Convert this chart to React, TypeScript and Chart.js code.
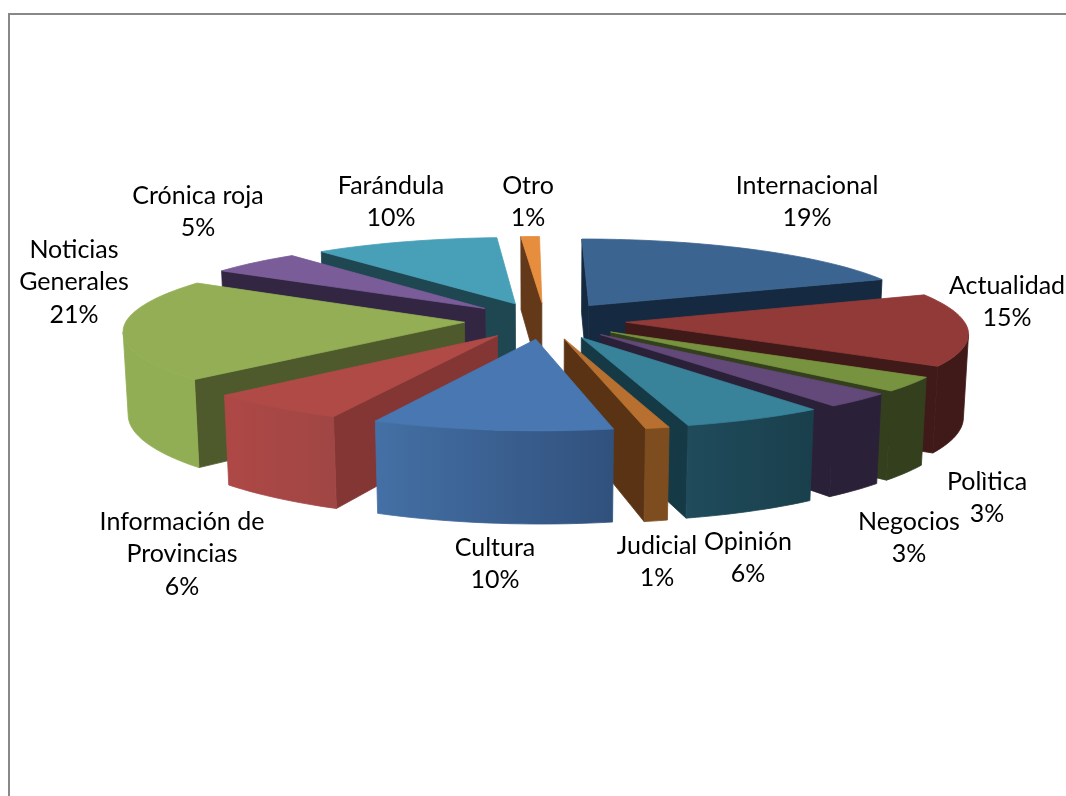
import React, { useEffect, useRef } from "react";
import { Chart, registerables } from "chart.js";

Chart.register(...registerables);

// Share of each news section, in percent, clockwise from the top of the pie.
const categories = [
  "Internacional", "Actualidad", "Polìtica", "Negocios", "Opinión", "Judicial",
  "Cultura", "Información de Provincias", "Noticias Generales", "Crónica roja", "Farándula", "Otro",
];
const shares = [19, 15, 3, 3, 6, 1, 10, 6, 21, 5, 10, 1];

// Surface colours per slice: top face, cut faces, and the rim at its first and last angle.
const topColors = ["#3C6491", "#913A38", "#77933F", "#63487A", "#38829A", "#B87030", "#4877B1", "#B04A47", "#93AE54", "#7A5C99", "#47A0B8", "#E68D3E"];
const cutColors = ["#152A40", "#3F1A18", "#343F1E", "#2A2138", "#163A45", "#5A3314", "#2C4A70", "#833634", "#4E5A2B", "#332642", "#1F4752", "#63391A"];
const rimStart = ["#152A40", "#3F1A18", "#343F1E", "#2A2138", "#1A3F4C", "#7E4D1F", "#31517D", "#A04644", "#92AE54", "#6E5490", "#3F90A6", "#C97B36"];
const rimEnd = ["#2A4A70", "#3F1A18", "#343F1E", "#2A2138", "#1F4B5B", "#7E4D1F", "#4470A5", "#AE4846", "#92AE54", "#7A5C99", "#47A0B8", "#E68D3E"];

// Text lines and where each label block sits: centre x, then the middle y of its first line.
const labelLines = [
  ["Internacional"], ["Actualidad"], ["Polìtica"], ["Negocios"], ["Opinión"], ["Judicial"],
  ["Cultura"], ["Información de", "Provincias"], ["Noticias", "Generales"], ["Crónica roja"], ["Farándula"], ["Otro"],
];
const labelX = [807, 1007, 987, 909, 748, 657, 495, 182, 74, 198, 391, 528];
const labelY = [185.5, 285.5, 481.5, 521.5, 541.5, 545.5, 547.5, 521.5, 249.5, 195.5, 185.5, 185.5];

// Camera used to lay the flat pie down into the page.
const view = { cx: 545, cy: 320.5, rx: 338, ry: 77, wall: 83, depth: 0.11, drop: 0.012, shearBack: 3, shearFront: 5 };

const project = (x: number, y: number, z: number): [number, number] => {
  const s = 1 / (1 - view.depth * y + view.drop * z);
  const shear = (y < 0 ? view.shearBack : view.shearFront) * y;
  return [view.cx + (view.rx * x + shear) * s, view.cy + (view.ry * y + view.wall * z) * s];
};

const mix = (a: string, b: string, t: number) => {
  const ch = (c: string, i: number) => parseInt(c.slice(1 + i * 2, 3 + i * 2), 16);
  const v = [0, 1, 2].map((i) => Math.round(ch(a, i) + (ch(b, i) - ch(a, i)) * t));
  return `rgb(${v[0]},${v[1]},${v[2]})`;
};

const signedArea = (pts: [number, number][]) =>
  pts.reduce((sum, p, i) => {
    const q = pts[(i + 1) % pts.length];
    return sum + p[0] * q[1] - q[0] * p[1];
  }, 0) / 2;

// The thin stroke closes the hairline that antialiasing leaves between neighbouring faces.
const fillPoly = (ctx: CanvasRenderingContext2D, pts: [number, number][], color: any) => {
  ctx.beginPath();
  pts.forEach((p, i) => (i ? ctx.lineTo(p[0], p[1]) : ctx.moveTo(p[0], p[1])));
  ctx.closePath();
  ctx.fillStyle = color;
  ctx.strokeStyle = color;
  ctx.lineWidth = 0.8;
  ctx.fill();
  ctx.stroke();
};

const solidPie = {
  id: "solidPie",
  beforeDraw(chart: any) {
    const { ctx } = chart;
    ctx.save();
    ctx.fillStyle = "#fff";
    ctx.fillRect(0, 0, chart.width, chart.height);
    ctx.strokeStyle = "#888";
    ctx.lineWidth = 2;
    ctx.beginPath();
    ctx.moveTo(9, 796);
    ctx.lineTo(9, 14);
    ctx.lineTo(1066, 14);
    ctx.stroke();
    ctx.restore();
  },
  // Replace the flat arcs with extruded ones, painted from the back of the pie to the front.
  beforeDatasetDraw(chart: any, args: any) {
    const { ctx } = chart;
    const arcs = args.meta.data.map((el: any, index: number) => ({ el, index }));
    const mid = (el: any) => (el.startAngle + el.endAngle) / 2;
    arcs.sort((a: any, b: any) => Math.sin(mid(a.el)) - Math.sin(mid(b.el)));
    for (const { el, index } of arcs) {
      const R = el.outerRadius;
      const off = el.options.offset / R;
      const ax = Math.cos(mid(el)) * off;
      const ay = Math.sin(mid(el)) * off;
      const steps = Math.max(3, Math.ceil((el.endAngle - el.startAngle) / 0.03));
      const rim: [number, number][] = [];
      for (let i = 0; i <= steps; i++) {
        const t = el.startAngle + ((el.endAngle - el.startAngle) * i) / steps;
        rim.push([ax + Math.cos(t), ay + Math.sin(t)]);
      }
      const first = rim[0];
      const last = rim[steps];

      // Cut faces, kept only when they turn towards the viewer.
      const startWall = [project(ax, ay, 0), project(first[0], first[1], 0), project(first[0], first[1], 1), project(ax, ay, 1)];
      const endWall = [project(ax, ay, 0), project(last[0], last[1], 0), project(last[0], last[1], 1), project(ax, ay, 1)];
      if (signedArea(startWall) < 0) fillPoly(ctx, startWall, cutColors[index]);
      if (signedArea(endWall) > 0) fillPoly(ctx, endWall, cutColors[index]);

      // The visible run of the rim as one shape, shaded across its width.
      let from = -1;
      let to = -1;
      for (let i = 0; i < steps; i++) {
        const p = rim[i];
        const q = rim[i + 1];
        const quad = [project(p[0], p[1], 0), project(q[0], q[1], 0), project(q[0], q[1], 1), project(p[0], p[1], 1)];
        if (signedArea(quad) < 0) {
          if (from < 0) from = i;
          to = i + 1;
        }
      }
      if (from >= 0) {
        const run = rim.slice(from, to + 1);
        const upper = run.map((p) => project(p[0], p[1], 0));
        const lower = run.map((p) => project(p[0], p[1], 1)).reverse();
        const x0 = upper[0][0];
        const x1 = upper[upper.length - 1][0];
        const shade = ctx.createLinearGradient(x0, 0, x1 === x0 ? x0 + 1 : x1, 0);
        shade.addColorStop(0, mix(rimStart[index], rimEnd[index], from / steps));
        shade.addColorStop(1, mix(rimStart[index], rimEnd[index], to / steps));
        fillPoly(ctx, [...upper, ...lower], shade);
      }

      fillPoly(ctx, [project(ax, ay, 0), ...rim.map((p) => project(p[0], p[1], 0))], el.options.backgroundColor);
    }
    return false;
  },
  afterDraw(chart: any) {
    const { ctx } = chart;
    const lineHeight = 32.5;
    ctx.save();
    ctx.fillStyle = "#000";
    ctx.font = '25px Lato, "Open Sans", sans-serif';
    ctx.textAlign = "center";
    ctx.textBaseline = "middle";
    shares.forEach((share, i) => {
      const lines = [...labelLines[i], `${share}%`];
      lines.forEach((line, k) => ctx.fillText(line, labelX[i], labelY[i] + k * lineHeight));
    });
    ctx.restore();
  },
};

export default function App() {
  const ref = useRef<HTMLCanvasElement>(null);
  useEffect(() => {
    const chart = new Chart(ref.current as HTMLCanvasElement, {
      type: "pie",
      data: {
        labels: categories,
        datasets: [{ data: shares, backgroundColor: topColors, borderWidth: 0, offset: 85 }],
      },
      options: {
        animation: false,
        responsive: false,
        events: [],
        layout: { padding: 0 },
        plugins: { legend: { display: false }, tooltip: { enabled: false } },
      },
      plugins: [solidPie],
    } as any);
    return () => chart.destroy();
  }, []);
  return (
    <canvas
      ref={ref}
      width={1066}
      height={796}
      style={{ position: "absolute", left: 0, top: 0, width: 1066, height: 796, display: "block" }}
    />
  );
}
